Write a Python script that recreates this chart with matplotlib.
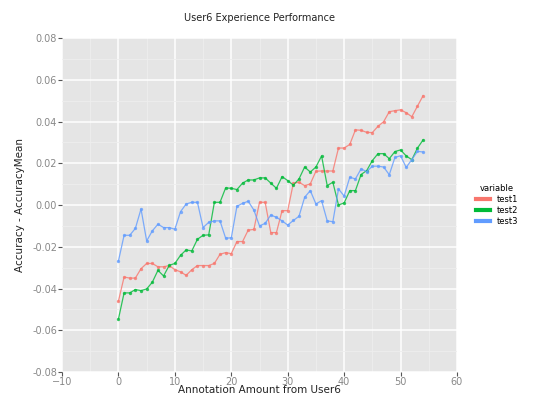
import matplotlib
matplotlib.use("Agg")
import matplotlib.pyplot as plt
from matplotlib.ticker import MultipleLocator
import numpy as np

# Annotation amount (x) and deviation from mean accuracy for each test run
annotations = list(range(55))

test1 = [-0.046, -0.0345, -0.035, -0.035, -0.0305, -0.028, -0.028, -0.0296, -0.0296, -0.029,
         -0.031, -0.032, -0.0337, -0.031, -0.029, -0.029, -0.029, -0.028, -0.0236, -0.0228,
         -0.0233, -0.0175, -0.0175, -0.012, -0.0117, 0.0013, 0.0013, -0.0132, -0.0132, -0.0027,
         -0.0027, 0.0105, 0.0109, 0.0093, 0.0101, 0.0162, 0.0163, 0.0163, 0.0163, 0.0273,
         0.0273, 0.029, 0.036, 0.0358, 0.0348, 0.0347, 0.0377, 0.0399, 0.0447, 0.0452,
         0.0456, 0.0442, 0.0423, 0.0474, 0.0524]

test2 = [-0.0546, -0.0421, -0.0421, -0.0405, -0.041, -0.0402, -0.037, -0.0313, -0.034, -0.0289,
         -0.028, -0.0241, -0.0215, -0.022, -0.0164, -0.0145, -0.0143, 0.0013, 0.0013, 0.0082,
         0.008, 0.0074, 0.0105, 0.012, 0.012, 0.013, 0.013, 0.0105, 0.008, 0.0136,
         0.0117, 0.0095, 0.0125, 0.0182, 0.0158, 0.0182, 0.0235, 0.0093, 0.0109, 0.0,
         0.001, 0.0069, 0.0069, 0.0146, 0.0165, 0.0213, 0.0246, 0.0246, 0.0222, 0.0256,
         0.0264, 0.0235, 0.0217, 0.0273, 0.0312]

test3 = [-0.0268, -0.0145, -0.0145, -0.0112, -0.0019, -0.0172, -0.0124, -0.0092, -0.0108, -0.0108,
         -0.0116, -0.0032, 0.0005, 0.0013, 0.0013, -0.0108, -0.0083, -0.0076, -0.0076, -0.0159,
         -0.0157, -0.0006, 0.0008, 0.0018, -0.0024, -0.01, -0.0088, -0.0048, -0.0059, -0.0076,
         -0.0096, -0.0074, -0.0054, 0.0037, 0.0069, 0.0005, 0.0021, -0.0076, -0.008, 0.0077,
         0.0043, 0.0133, 0.0125, 0.0173, 0.016, 0.0186, 0.0186, 0.0182, 0.0145, 0.0228,
         0.0236, 0.018, 0.0218, 0.0257, 0.0254]

series_names = ["test1", "test2", "test3"]
series_colors = ["#F8766D", "#00BA38", "#619CFF"]

fig = plt.figure(figsize=(5.37, 3.98), dpi=100)
ax = fig.add_axes([0.1155, 0.0653, 0.7355, 0.8392])
ax.set_facecolor("#E5E5E5")

for name, values, color in zip(series_names, [test1, test2, test3], series_colors):
    ax.plot(annotations, values, color=color, lw=0.9, alpha=0.8,
            marker="o", markersize=2.4, markeredgewidth=0, label=name, zorder=3)

ax.set_xlim(-10, 60)
ax.set_ylim(-0.08, 0.08)
ax.xaxis.set_major_locator(MultipleLocator(10))
ax.xaxis.set_minor_locator(MultipleLocator(5))
ax.yaxis.set_major_locator(MultipleLocator(0.02))
ax.yaxis.set_minor_locator(MultipleLocator(0.01))
ax.yaxis.set_major_formatter(matplotlib.ticker.FormatStrFormatter("%.2f"))

ax.grid(which="major", color="white", lw=1.1, zorder=1)
ax.grid(which="minor", color="#EEEEEE", lw=0.6, zorder=1)
ax.set_axisbelow(True)
for s in ax.spines.values():
    s.set_visible(False)

ax.tick_params(which="major", direction="out", length=3, width=0.8, color="#555555",
               labelsize=7, labelcolor="#888888", pad=0.5)
ax.tick_params(which="minor", length=0)

ax.set_xlabel("Annotation Amount from User6", fontsize=7.5, color="#222222", labelpad=-1)
ax.set_ylabel("Accuracy - AccuracyMean", fontsize=7.5, color="#222222", labelpad=5)
ax.set_title("User6 Experience Performance", fontsize=7, color="#222222", pad=12)

leg = ax.legend(loc="center left", bbox_to_anchor=(1.03, 0.5), frameon=False,
                title="variable", fontsize=6, title_fontsize=6, handlelength=1.6,
                labelspacing=0.25)
for line in leg.get_lines():
    line.set_linewidth(3)
    line.set_marker("")
    line.set_alpha(1)

fig.savefig("out.png", dpi=100)
